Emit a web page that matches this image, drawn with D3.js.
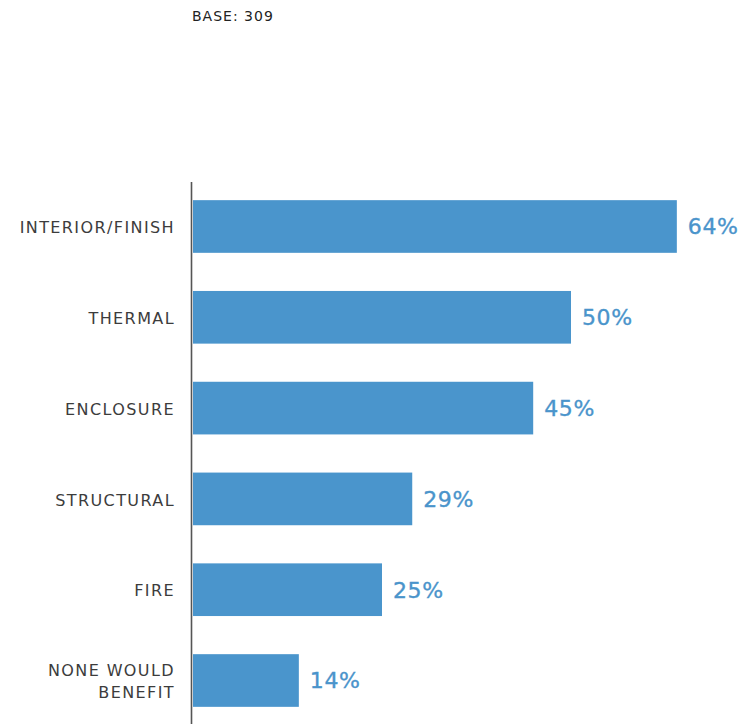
<!DOCTYPE html>
<html>
<head>
<meta charset="utf-8">
<style>
  body { margin: 0; background: #fff; font-family: "DejaVu Sans", sans-serif; }
  .cat text { font-size: 16px; fill: #3c3c3c; letter-spacing: 1.4px; }
  .val { font-size: 22px; fill: #4a94cb; stroke: #4a94cb; stroke-width: 0.35px; letter-spacing: 0.6px; }
</style>
</head>
<body>
<svg width="739" height="724"></svg>
<script src="https://cdnjs.cloudflare.com/ajax/libs/d3/7.8.5/d3.min.js"></script>
<script>
var categories = ["INTERIOR/FINISH", "THERMAL", "ENCLOSURE", "STRUCTURAL", "FIRE", "NONE WOULD|BENEFIT"];
var values = [64, 50, 45, 29, 25, 14];
var baseNote = "BASE: 309";

var svg = d3.select("svg");
var data = categories.map(function(c, i) { return { cat: c, v: values[i] }; });

var x = d3.scaleLinear().domain([0, 100]).range([193, 949]);
var y = d3.scaleBand().domain(categories).range([182, 725])
    .paddingInner(0.42).paddingOuter(0.2);

svg.append("text")
  .attr("x", 192).attr("y", 21)
  .attr("font-size", 14).attr("fill", "#222")
  .attr("letter-spacing", "1px")
  .text(baseNote);

svg.append("g").selectAll("rect")
  .data(data).enter().append("rect")
  .attr("x", x(0))
  .attr("y", function(d) { return y(d.cat); })
  .attr("width", function(d) { return x(d.v) - x(0); })
  .attr("height", y.bandwidth())
  .attr("fill", "#4a95cc");

svg.append("g").selectAll("text")
  .data(data).enter().append("text")
  .attr("class", "val")
  .attr("x", function(d) { return x(d.v) + 11; })
  .attr("y", function(d) { return y(d.cat) + y.bandwidth() / 2; })
  .attr("dy", "0.36em")
  .text(function(d) { return d.v + "%"; });

// category labels (multi-line split on |)
var cat = svg.append("g").attr("class", "cat")
  .selectAll("text").data(data).enter().append("text")
  .attr("text-anchor", "end")
  .attr("x", 175)
  .attr("y", function(d) { return y(d.cat) + y.bandwidth() / 2; });
cat.each(function(d) {
  var lines = d.cat.split("|");
  var t = d3.select(this);
  lines.forEach(function(l, i) {
    t.append("tspan").attr("x", 175)
      .attr("dy", i == 0 ? (0.42 - (lines.length - 1) * 0.7) + "em" : "1.4em")
      .text(l);
  });
});

svg.append("line")
  .attr("x1", 191.5).attr("x2", 191.5)
  .attr("y1", 182).attr("y2", 724)
  .attr("stroke", "#555").attr("stroke-width", 1.6);
</script>
</body>
</html>
